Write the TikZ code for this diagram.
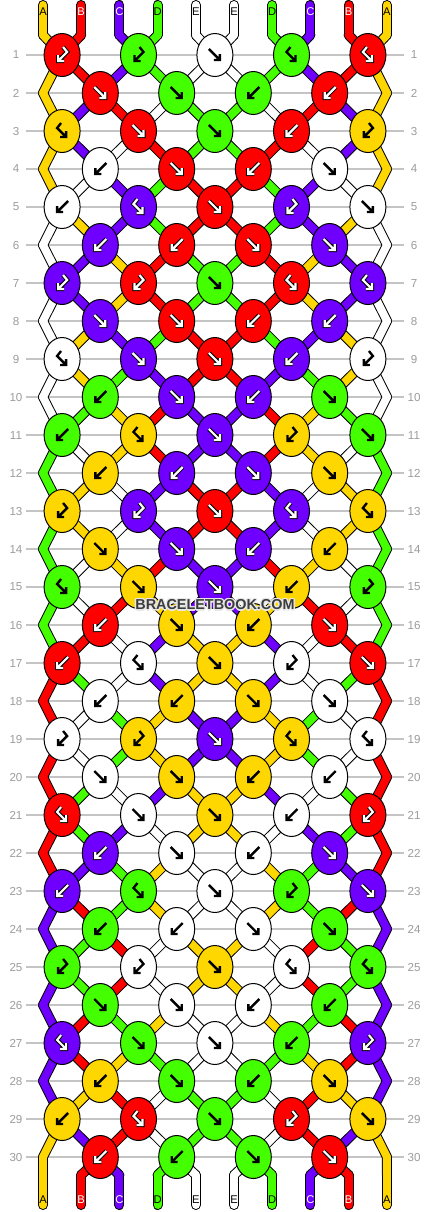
\documentclass[tikz,border=0pt]{standalone}
\usepackage{fontspec}
\setsansfont{Liberation Sans}
\usetikzlibrary{shapes.geometric}
\pgfdeclarelayer{background}
\pgfsetlayers{background,main}

\definecolor{cY}{HTML}{FFD700}
\definecolor{cR}{HTML}{FF0000}
\definecolor{cP}{HTML}{6F00FF}
\definecolor{cG}{HTML}{44FF00}
\definecolor{cW}{HTML}{FFFFFF}
\definecolor{rowgray}{HTML}{C4C4C4}
\definecolor{numgray}{HTML}{9C9C9C}
\definecolor{wmgray}{HTML}{3C3C3C}
\definecolor{wmhalo}{HTML}{E8E8E8}

% knot symbols, drawn round the origin (image pixels, y downwards)
\newcommand\kmF[1]{\draw[#1] (-6,-6) -- (5,5) (5,-1) -- (5,5) -- (-1,5);}
\newcommand\kmB[1]{\draw[#1] (6,-6) -- (-5,5) (-5,-1) -- (-5,5) -- (1,5);}
\newcommand\kmFB[1]{\draw[#1] (-1,-8) -- (-5,-3) -- (4,6) (4,0) -- (4,6) -- (-2,6);}
\newcommand\kmBF[1]{\draw[#1] (1,-8) -- (5,-3) -- (-4,6) (-4,0) -- (-4,6) -- (2,6);}
\def\mirF{B}\def\mirB{F}\def\mirFB{BF}\def\mirBF{FB}

% knot index of string position #1 in row #2
\pgfmathdeclarefunction{kidx}{2}{%
  \pgfmathparse{or(#2==0,#2==31) ? #1 : (mod(#2,2)==1 ? floor((#1+1)/2) : floor(#1/2))}%
}

\tikzset{
  knot/.style={ellipse, draw=black, line width=0.5pt, minimum width=18pt,
    minimum height=21.5pt, inner sep=0pt},
  strout/.style={line width=5pt, draw=black, line cap=round, line join=round},
  strin/.style={line width=4pt, draw=c#1, line cap=round, line join=round},
  rowline/.style={rowgray, line width=0.7pt},
  rownum/.style={numgray, font=\sffamily\fontsize{5.8}{6}\selectfont},
  strlabel/.style={font=\sffamily\fontsize{5.6}{6}\selectfont, inner sep=0pt},
  markblack/.style={black, line width=1.2pt},
  markwhite/.style={white, line width=1.1pt, preaction={draw=black, line width=2.1pt}},
  mY/.style={markblack}, mG/.style={markblack}, mW/.style={markblack},
  mR/.style={markwhite}, mP/.style={markwhite},
  wmtext/.style={font=\sffamily\bfseries\fontsize{7.2}{8}\selectfont}
}

\begin{document}
\begin{tikzpicture}[x=0.5pt,y=-0.5pt]
	\useasboundingbox (0,0) rectangle (430,1212);

	% string ends, top and bottom
	\foreach \p in {1,...,10} {
		\pgfmathsetmacro\x{43+(\p-1)*38.2}
		\coordinate (a-\p) at (\x,5);
		\coordinate (k-0-\p) at (\x,35);
		\coordinate (k-31-\p) at (\x,1175);
		\coordinate (z-\p) at (\x,1205);
	}

	% knots: row / left half (colour/type), mirrored to the right
	\foreach \r/\kl in {1/{R/BF,G/BF,W/F}, 2/{R/F,G/F}, 3/{Y/FB,R/F,G/F}, 4/{W/B,R/F},
		5/{W/B,P/FB,R/F}, 6/{P/B,R/B}, 7/{P/BF,R/BF,G/F}, 8/{P/F,R/F},
		9/{W/FB,P/F,R/F}, 10/{G/B,P/F}, 11/{G/B,Y/FB,P/F}, 12/{Y/B,P/B},
		13/{Y/BF,P/BF,R/F}, 14/{Y/F,P/F}, 15/{G/FB,Y/F,P/F}, 16/{R/B,Y/F},
		17/{R/B,W/FB,Y/F}, 18/{W/B,Y/B}, 19/{W/BF,Y/BF,P/F}, 20/{W/F,Y/F},
		21/{R/FB,W/F,Y/F}, 22/{P/B,W/F}, 23/{P/B,G/FB,W/F}, 24/{G/B,W/B},
		25/{G/BF,W/BF,Y/F}, 26/{G/F,W/F}, 27/{P/FB,G/F,W/F}, 28/{Y/B,G/F},
		29/{Y/B,R/FB,G/F}, 30/{R/B,G/B}} {
		\pgfmathsetmacro\y{55+(\r-1)*38}
		\pgfmathtruncatemacro\odd{mod(\r,2)}
		\ifnum\odd=0
			\coordinate (k-\r-0) at (43,\y);
			\coordinate (k-\r-5) at (387,\y);
		\fi
		\foreach \c/\t [count=\k] in \kl {
			\pgfmathsetmacro\x{43+(2*\k-1.5+(1-\odd))*38.2}
			\pgfmathtruncatemacro\km{6-\k-(1-\odd)}
			\node[knot, fill=c\c] (k-\r-\k) at (\x,\y) {};
			\begin{scope}[shift={(\x,\y)}] \csname km\t\endcsname{m\c} \end{scope}
			\ifnum\km=\k\else
				\node[knot, fill=c\c] (k-\r-\km) at (430-\x,\y) {};
				\begin{scope}[shift={(430-\x,\y)}] \csname km\csname mir\t\endcsname\endcsname{m\c} \end{scope}
			\fi
		}
	}

	\begin{pgfonlayer}{background}
		\fill[white] (0,0) rectangle (430,1212);
		\foreach \r in {1,...,30}
			\draw[rowline] (26,55+\r*38-38) -- (404,55+\r*38-38);
		% strings: outline first, then colour
		\foreach \sty in {strout,strin} {
			\foreach \c [count=\p] in {Y,R,P,G,W} {
				\pgfmathtruncatemacro\q{11-\p}
				\draw[\sty=\c] (a-\p) -- (k-0-\p) (a-\q) -- (k-0-\q);
				\draw[\sty=\c] (k-31-\p) -- (z-\p) (k-31-\q) -- (z-\q);
			}
			\foreach \r/\s in {0/{Y,R,P,G,W}, 1/{Y,R,P,G,W}, 2/{Y,P,R,W,G}, 3/{Y,P,W,R,G},
				4/{Y,W,P,G,R}, 5/{W,Y,P,G,R}, 6/{W,P,Y,R,G}, 7/{W,P,Y,R,G},
				8/{W,Y,P,G,R}, 9/{W,Y,G,P,R}, 10/{W,G,Y,R,P}, 11/{G,W,Y,R,P},
				12/{G,Y,W,P,R}, 13/{G,Y,W,P,R}, 14/{G,W,Y,R,P}, 15/{G,W,R,Y,P},
				16/{G,R,W,P,Y}, 17/{R,G,W,P,Y}, 18/{R,W,G,Y,P}, 19/{R,W,G,Y,P},
				20/{R,G,W,P,Y}, 21/{R,G,P,W,Y}, 22/{R,P,G,Y,W}, 23/{P,R,G,Y,W},
				24/{P,G,R,W,Y}, 25/{P,G,R,W,Y}, 26/{P,R,G,Y,W}, 27/{P,R,Y,G,W},
				28/{P,Y,R,W,G}, 29/{Y,P,R,W,G}, 30/{Y,R,P,G,W}} {
				\pgfmathtruncatemacro\rb{\r+1}
				\foreach \c [count=\p] in \s {
					\pgfmathtruncatemacro\q{11-\p}
					\pgfmathtruncatemacro\ka{kidx(\p,\r)}
					\pgfmathtruncatemacro\kb{kidx(\p,\rb)}
					\pgfmathtruncatemacro\kc{kidx(\q,\r)}
					\pgfmathtruncatemacro\kd{kidx(\q,\rb)}
					\draw[\sty=\c] (k-\r-\ka.center) -- (k-\rb-\kb.center);
					\draw[\sty=\c] (k-\r-\kc.center) -- (k-\rb-\kd.center);
				}
			}
		}
	\end{pgfonlayer}

	% string letters
	\foreach \l/\tc [count=\p] in {A/black,B/white,C/white,D/black,E/black,E/black,D/black,C/white,B/white,A/black} {
		\node[strlabel, text=\tc] (top-\p) at (a-\p) [yshift=-3.5pt] {\l};
		\node[strlabel, text=\tc] (bot-\p) at (z-\p) [yshift=2.5pt] {\l};
	}

	% row numbers
	\foreach \r in {1,...,30} {
		\node[rownum] (numl-\r) at (16,55+\r*38-38) {\r};
		\node[rownum] (numr-\r) at (414,55+\r*38-38) {\r};
	}

	% watermark with a light halo
	\foreach \dx/\dy [count=\i] in {-1.5/0,1.5/0,0/-1.5,0/1.5,-1/-1,1/-1,-1/1,1/1}
		\node[wmtext, text=wmhalo] (halo-\i) at (215+\dx,605+\dy) {BRACELETBOOK.COM};
	\node[wmtext, text=wmgray] (mark) at (215,605) {BRACELETBOOK.COM};
\end{tikzpicture}
\end{document}
